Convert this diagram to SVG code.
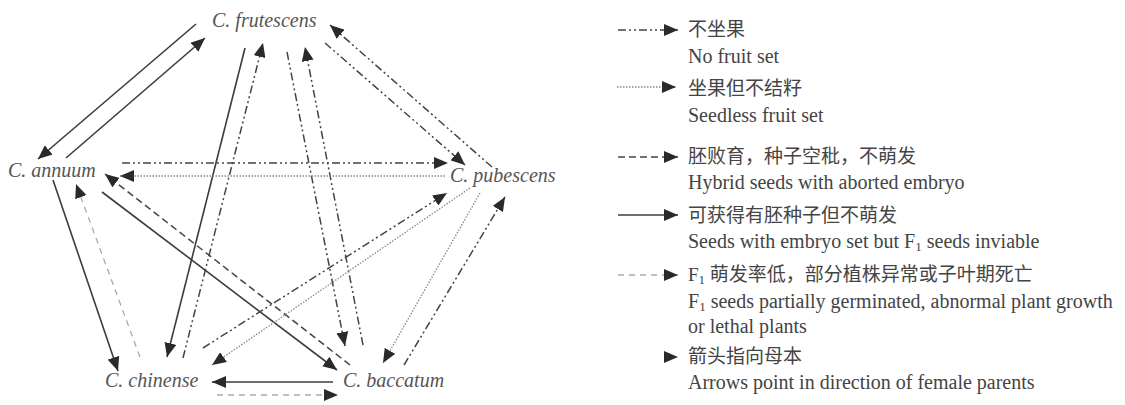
<svg xmlns="http://www.w3.org/2000/svg" width="1125" height="405" viewBox="0 0 1125 405">
<style>
.node{font-family:"Liberation Serif",serif;font-style:italic;font-size:20px;fill:#555}
.en{font-family:"Liberation Serif",serif;font-size:20px;fill:#444}
.cn{font-family:"Liberation Serif","Noto Sans CJK SC",serif;font-size:19px;fill:#444}
.c{fill:none}
.solid{stroke:#3c3c3c;stroke-width:1.6}
.nofruit{stroke:#444;stroke-width:1.5;stroke-dasharray:8 3 2 3 2 3}
.seedless{stroke:#888;stroke-width:1.3;stroke-dasharray:1.5 1.5}
.abort{stroke:#444;stroke-width:1.5;stroke-dasharray:7 4}
.f1{stroke:#aaa;stroke-width:1.3;stroke-dasharray:6 5}
</style>
<defs>
<marker id="ah" viewBox="0 0 14 12" refX="14" refY="6" markerWidth="14" markerHeight="12" markerUnits="userSpaceOnUse" orient="auto">
<path d="M0,0 L14,6 L0,12 z" fill="#2a2a2a"/>
</marker>
</defs>

<g id="connectors" class="c" marker-end="url(#ah)">
<line class="solid" x1="196" y1="24" x2="38" y2="159"/>
<line class="solid" x1="66" y1="158" x2="205" y2="38"/>
<line class="solid" x1="245" y1="48" x2="167" y2="357"/>
<line class="nofruit" x1="183" y1="358" x2="263" y2="43"/>
<line class="nofruit" x1="287" y1="52" x2="345" y2="346"/>
<line class="nofruit" x1="363" y1="345" x2="305" y2="47"/>
<line class="nofruit" x1="325" y1="43" x2="465" y2="165"/>
<line class="nofruit" x1="492" y1="167" x2="330" y2="25"/>
<line class="nofruit" x1="122" y1="163" x2="448" y2="163"/>
<line class="seedless" x1="445" y1="176" x2="120" y2="176"/>
<line class="solid" x1="53" y1="180" x2="118" y2="371"/>
<line class="f1" x1="140" y1="357" x2="76" y2="184"/>
<line class="solid" x1="102" y1="192" x2="337" y2="370"/>
<line class="abort" x1="350" y1="365" x2="105" y2="174"/>
<line class="nofruit" x1="203" y1="348" x2="447" y2="193"/>
<line class="seedless" x1="470" y1="188" x2="212" y2="365"/>
<line class="seedless" x1="480" y1="193" x2="383" y2="363"/>
<line class="nofruit" x1="404" y1="365" x2="505" y2="197"/>
<line class="solid" x1="333" y1="382" x2="212" y2="382"/>
<line class="f1" x1="217" y1="395" x2="338" y2="395"/>
</g>

<g id="node-frutescens"><text class="node" x="212" y="27">C. frutescens</text></g>
<g id="node-annuum"><text class="node" x="8" y="177">C. annuum</text></g>
<g id="node-pubescens"><text class="node" x="450" y="182">C. pubescens</text></g>
<g id="node-chinense"><text class="node" x="105" y="387">C. chinense</text></g>
<g id="node-baccatum"><text class="node" x="343" y="387">C. baccatum</text></g>

<g id="legend">
<g class="c" marker-end="url(#ah)">
<line class="nofruit" x1="618" y1="30" x2="678" y2="30"/>
<line class="seedless" x1="617" y1="87" x2="676" y2="87"/>
<line class="abort" x1="618" y1="157" x2="678" y2="157"/>
<line class="solid" x1="618" y1="215" x2="678" y2="215"/>
<line class="f1" x1="618" y1="275" x2="678" y2="275"/>
</g>
<path d="M664,351 L678,357 L664,363 z" fill="#2a2a2a"/>
<text class="cn" x="688" y="36">不坐果</text>
<text class="en" x="688" y="63">No fruit set</text>
<text class="cn" x="688" y="95">坐果但不结籽</text>
<text class="en" x="688" y="122">Seedless fruit set</text>
<text class="cn" x="688" y="163">胚败育，种子空秕，不萌发</text>
<text class="en" x="688" y="189">Hybrid seeds with aborted embryo</text>
<text class="cn" x="688" y="222">可获得有胚种子但不萌发</text>
<text class="en" x="688" y="248">Seeds with embryo set but F<tspan font-size="13" dy="3">1</tspan><tspan dy="-3"> seeds inviable</tspan></text>
<text class="cn" x="688" y="281">F<tspan font-size="13" dy="3">1</tspan><tspan dy="-3"> 萌发率低，部分植株异常或子叶期死亡</tspan></text>
<text class="en" x="688" y="308">F<tspan font-size="13" dy="3">1</tspan><tspan dy="-3"> seeds partially germinated, abnormal plant growth</tspan></text>
<text class="en" x="688" y="333">or lethal plants</text>
<text class="cn" x="688" y="363">箭头指向母本</text>
<text class="en" x="688" y="389">Arrows point in direction of female parents</text>
</g>
</svg>
